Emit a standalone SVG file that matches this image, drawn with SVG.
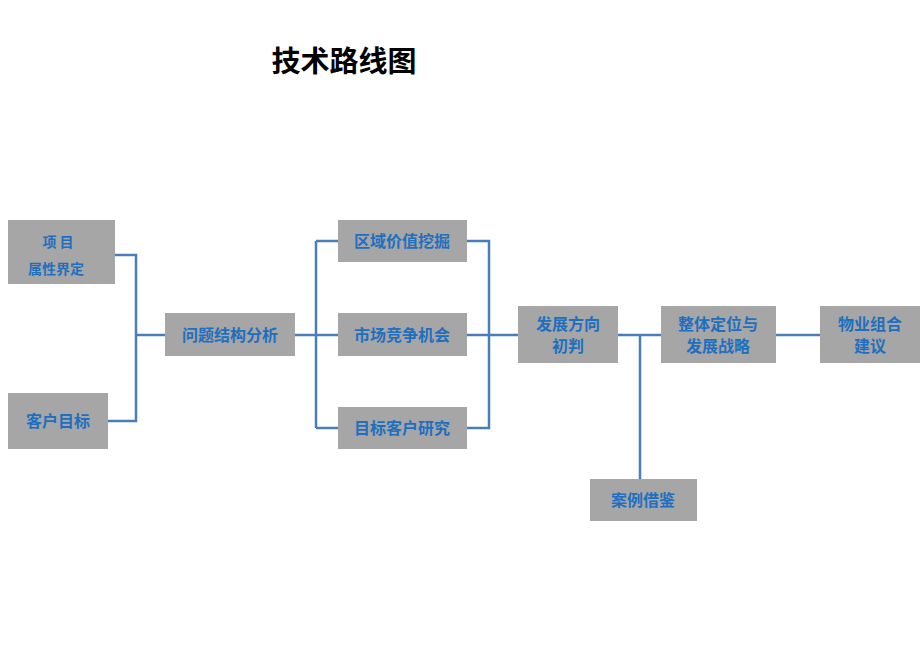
<svg xmlns="http://www.w3.org/2000/svg" width="920" height="671" viewBox="0 0 920 671">
<style>
.b{fill:#a6a6a6}
.t{font-family:"Noto Sans CJK SC",sans-serif;font-weight:bold;font-size:16px;fill:#1f6fc0;text-anchor:middle}
.c{stroke:#4a7ebb;stroke-width:2.5;fill:none}
</style>
<rect width="920" height="671" fill="#fff"/>
<text x="344" y="72" style="font-family:'Noto Sans CJK SC',sans-serif;font-weight:bold;font-size:29px;text-anchor:middle">技术路线图</text>
<g id="connectors" class="c">
<path d="M115 255H136V421H108M136 335H165"/>
<path d="M295 335H338M316 241V428M316 241H338M316 428H338"/>
<path d="M467 241H489V428H467M467 335H518"/>
<path d="M618 335H661M776 335H820M640 335V479"/>
</g>
<g id="n1"><rect class="b" x="8" y="220" width="107" height="64"/><text class="t" x="58" y="247" font-size="14" style="font-size:14px">项  目</text><text class="t" x="56" y="274" style="font-size:14px">属性界定</text></g>
<g id="n2"><rect class="b" x="8" y="393" width="100" height="56"/><text class="t" x="58" y="427">客户目标</text></g>
<g id="n3"><rect class="b" x="165" y="313" width="130" height="43"/><text class="t" x="230" y="341">问题结构分析</text></g>
<g id="n4"><rect class="b" x="338" y="220" width="129" height="42"/><text class="t" x="402" y="247">区域价值挖掘</text></g>
<g id="n5"><rect class="b" x="338" y="313" width="129" height="43"/><text class="t" x="402" y="341">市场竞争机会</text></g>
<g id="n6"><rect class="b" x="338" y="407" width="129" height="42"/><text class="t" x="402" y="434">目标客户研究</text></g>
<g id="n7"><rect class="b" x="518" y="306" width="100" height="57"/><text class="t" x="568" y="330">发展方向</text><text class="t" x="568" y="352">初判</text></g>
<g id="n8"><rect class="b" x="661" y="306" width="115" height="57"/><text class="t" x="718" y="330">整体定位与</text><text class="t" x="718" y="352">发展战略</text></g>
<g id="n9"><rect class="b" x="820" y="306" width="100" height="57"/><text class="t" x="870" y="330">物业组合</text><text class="t" x="870" y="352">建议</text></g>
<g id="n10"><rect class="b" x="590" y="479" width="107" height="42"/><text class="t" x="643" y="506">案例借鉴</text></g>
</svg>
